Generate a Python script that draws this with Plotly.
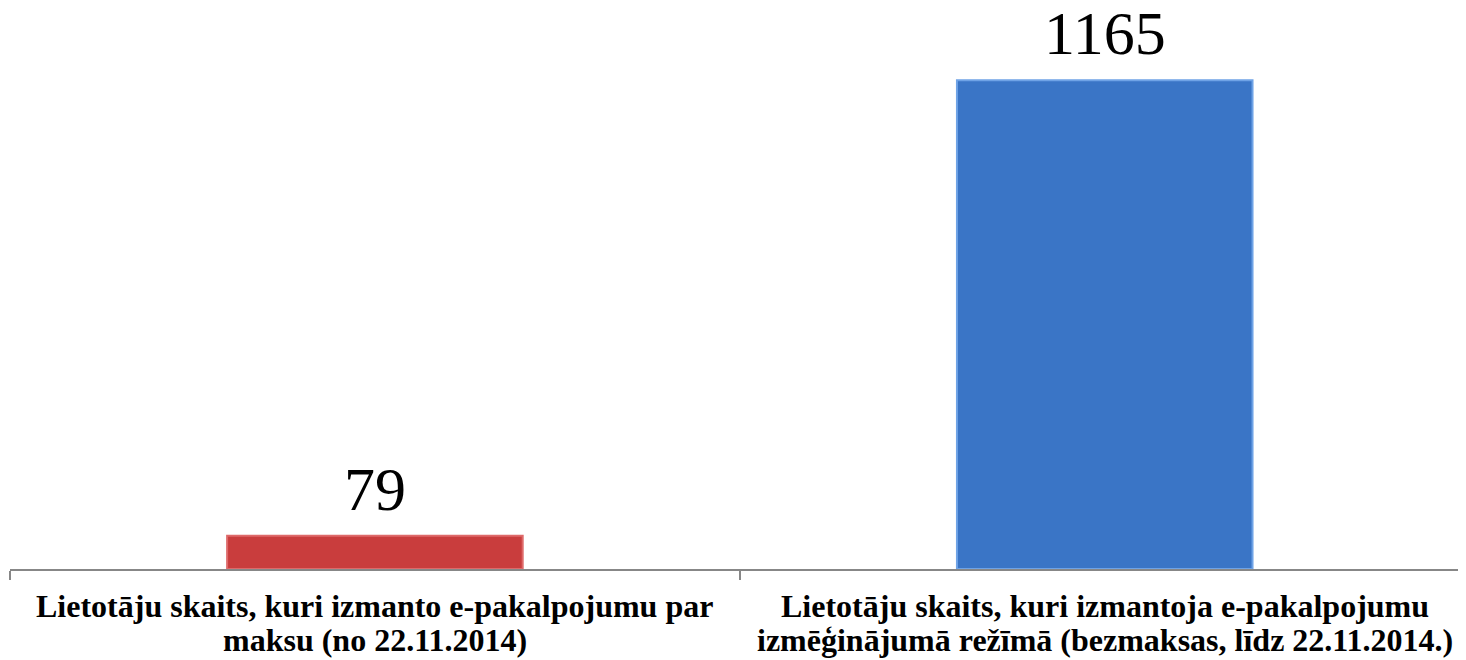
import plotly.graph_objects as go

categories = ["maksas", "bezmaksas"]
label_lines = [
    ["Lietotāju skaits, kuri izmanto e-pakalpojumu par", "maksu (no 22.11.2014)"],
    ["Lietotāju skaits, kuri izmantoja e-pakalpojumu", "izmēģinājumā režīmā (bezmaksas, līdz 22.11.2014.)"],
]
values = [79, 1165]
bar_colors = ["#C93D3D", "#3A75C6"]
edge_colors = ["#DE6A6A", "#6FA3E6"]

serif = "Liberation Serif, Times New Roman, serif"

fig = go.Figure(go.Bar(
    x=categories,
    y=values,
    width=0.405,
    marker=dict(color=bar_colors, line=dict(color=edge_colors, width=2)),
    hoverinfo="skip",
))

# value labels above the bars
for cat, v in zip(categories, values):
    fig.add_annotation(
        x=cat, y=v, text=str(v), showarrow=False,
        yanchor="bottom", yshift=11,
        font=dict(family=serif, size=62, color="#000000"),
    )

# category labels, one annotation per line to get the tight line spacing
for cat, lines in zip(categories, label_lines):
    for k, line in enumerate(lines):
        fig.add_annotation(
            x=cat, y=0, yref="paper", text=line, showarrow=False,
            yanchor="middle", yshift=-37 - 34 * k,
            font=dict(family=serif, size=32, color="#000000", weight="bold"),
        )

# page body has an 8px margin, so the figure is a bit smaller than the window
fig.update_layout(
    width=1458, height=652,
    margin=dict(l=2, r=0, t=0, b=91),
    plot_bgcolor="white", paper_bgcolor="white",
    showlegend=False,
    xaxis=dict(
        type="category",
        range=[-0.5, 1.495],
        showticklabels=False, automargin=False,
        showline=True, linecolor="#878787", linewidth=2,
        ticks="outside", tickson="boundaries", ticklen=9, tickcolor="#878787", tickwidth=2,
        showgrid=False, zeroline=False,
    ),
    yaxis=dict(range=[0, 1337], visible=False, showgrid=False, zeroline=False),
)

fig.write_html("out.html")
